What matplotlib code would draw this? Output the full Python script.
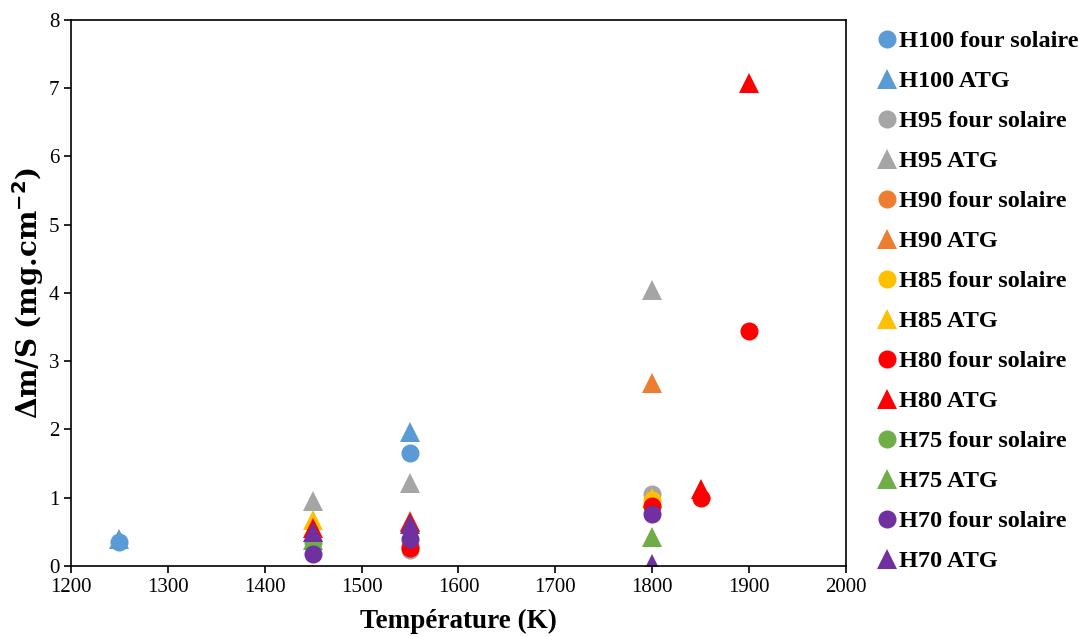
import matplotlib
matplotlib.use("Agg")
import matplotlib.pyplot as plt

plt.rcParams['font.family'] = ['Liberation Serif', 'DejaVu Serif']

# Data (Temperature K, Δm/S mg.cm-2)
h100_fs_x = [1250, 1550]; h100_fs_y = [0.35, 1.65]
h100_atg_x = [1250, 1550]; h100_atg_y = [0.40, 1.96]
h95_fs_x = [1550, 1800]; h95_fs_y = [0.24, 1.06]
h95_atg_x = [1450, 1550, 1800]; h95_atg_y = [0.95, 1.22, 4.05]
h90_fs_x = [1550]; h90_fs_y = [0.30]
h90_atg_x = [1550, 1800]; h90_atg_y = [0.66, 2.68]
h85_fs_x = [1800]; h85_fs_y = [0.97]
h85_atg_x = [1450, 1800]; h85_atg_y = [0.68, 1.00]
h80_fs_x = [1550, 1800, 1850, 1900]; h80_fs_y = [0.27, 0.88, 0.99, 3.45]
h80_atg_x = [1450, 1550, 1850, 1900]; h80_atg_y = [0.55, 0.64, 1.13, 7.08]
h75_fs_x = [1450]; h75_fs_y = [0.35]
h75_atg_x = [1450, 1800]; h75_atg_y = [0.38, 0.42]
h70_fs_x = [1450, 1550, 1800]; h70_fs_y = [0.17, 0.40, 0.76]
h70_atg_x = [1450, 1550, 1800]; h70_atg_y = [0.50, 0.62, 0.03]

series = [
    ("H100 four solaire", h100_fs_x, h100_fs_y, "#5B9BD5", "o"),
    ("H100 ATG", h100_atg_x, h100_atg_y, "#5B9BD5", "^"),
    ("H95 four solaire", h95_fs_x, h95_fs_y, "#A5A5A5", "o"),
    ("H95 ATG", h95_atg_x, h95_atg_y, "#A5A5A5", "^"),
    ("H90 four solaire", h90_fs_x, h90_fs_y, "#ED7D31", "o"),
    ("H90 ATG", h90_atg_x, h90_atg_y, "#ED7D31", "^"),
    ("H85 four solaire", h85_fs_x, h85_fs_y, "#FFC000", "o"),
    ("H85 ATG", h85_atg_x, h85_atg_y, "#FFC000", "^"),
    ("H80 four solaire", h80_fs_x, h80_fs_y, "#FF0000", "o"),
    ("H80 ATG", h80_atg_x, h80_atg_y, "#FF0000", "^"),
    ("H75 four solaire", h75_fs_x, h75_fs_y, "#70AD47", "o"),
    ("H75 ATG", h75_atg_x, h75_atg_y, "#70AD47", "^"),
    ("H70 four solaire", h70_fs_x, h70_fs_y, "#7030A0", "o"),
    ("H70 ATG", h70_atg_x, h70_atg_y, "#7030A0", "^"),
]

fig = plt.figure(figsize=(10.8, 6.37), dpi=100)
ax = fig.add_axes([0.0657, 0.1115, 0.7176, 0.8571])

for label, xs, ys, c, m in series:
    ax.plot(xs, ys, linestyle='none', marker=m, color=c, markersize=13 if m == 'o' else 14,
            markeredgewidth=0, label=label)

ax.set_xlim(1200, 2000)
ax.set_ylim(0, 8)
ax.set_xticks(range(1200, 2001, 100))
ax.set_yticks(range(0, 9))
ax.tick_params(axis='both', direction='out', labelsize=15, length=5, width=1.2,
               top=False, right=False)
for s in ax.spines.values():
    s.set_linewidth(1.2)
ax.set_xlabel("Température (K)", fontsize=19.5, fontweight='bold', labelpad=9)
ax.set_ylabel("Δm/S (mg.cm$^{\\mathbf{-2}}$)", fontsize=20, fontweight='bold',
              family=['DejaVu Serif'], labelpad=2)

leg = ax.legend(loc='upper left', bbox_to_anchor=(1.015, 1.012), frameon=False,
                prop={'size': 17.5, 'weight': 'bold'}, handletextpad=0.0,
                handlelength=1.0, labelspacing=0.74, borderaxespad=0.3,
                markerscale=1.0)

fig.savefig("out.png", dpi=100)
